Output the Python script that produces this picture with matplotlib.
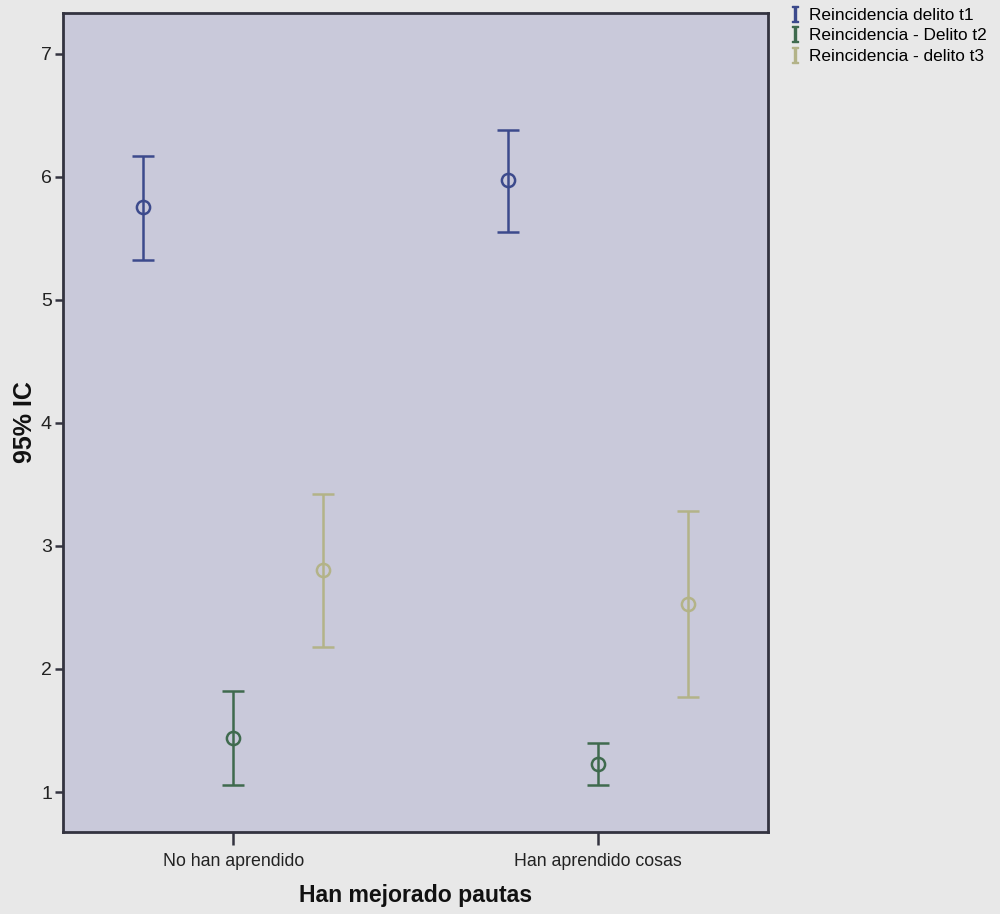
import numpy as np
import matplotlib
matplotlib.use("Agg")
import matplotlib.pyplot as plt
from matplotlib.lines import Line2D

# datos (IC 95%)
categorias = ['No han aprendido', 'Han aprendido cosas']
series = ['Reincidencia delito t1', 'Reincidencia - Delito t2', 'Reincidencia - delito t3']
media = [[5.75, 5.97], [1.44, 1.23], [2.80, 2.53]]
ic_inf = [[5.32, 5.55], [1.06, 1.06], [2.18, 1.77]]
ic_sup = [[6.17, 6.38], [1.82, 1.40], [3.42, 3.28]]
colores = ['#3c4a8c', '#3f6a4e', '#b3b388']

plt.rcParams['font.family'] = ['Liberation Sans', 'DejaVu Sans']
plt.rcParams['mathtext.fontset'] = 'dejavuserif'

fig = plt.figure(figsize=(10, 9.14), dpi=100, facecolor='#e8e8e8')
ax = fig.add_axes([0.063, 0.0897, 0.705, 0.8961])
ax.set_facecolor('#c9c9da')

x = np.arange(len(categorias))
desplaz = [-0.247, 0, 0.247]
for i in range(3):
    m = np.array(media[i])
    err = [m - np.array(ic_inf[i]), np.array(ic_sup[i]) - m]
    ax.errorbar(x + desplaz[i], m, yerr=err, fmt='o', color=colores[i],
                mfc='none', mec=colores[i], ms=9.5, mew=1.8,
                elinewidth=1.8, capsize=8, capthick=1.8)

ax.set_xlim(-0.467, 1.467)
ax.set_ylim(0.675, 7.33)
ax.set_xticks(x)
ax.set_xticklabels(categorias, fontsize=12.8, color='#222222')
ax.set_yticks([1, 2, 3, 4, 5, 6, 7])
ax.set_yticklabels([1, 2, 3, 4, 5, 6, 7], fontsize=14, color='#222222')
ax.tick_params(axis='y', length=6, width=1.8, color='#333340', pad=2)
ax.tick_params(axis='x', length=9, width=1.8, color='#333340', pad=6)
for s in ax.spines.values():
    s.set_linewidth(2)
    s.set_color('#333340')
ax.set_xlabel('Han mejorado pautas', fontsize=16.6, fontweight='bold', labelpad=10,
              color='#111111')
ax.set_ylabel('95% IC', fontsize=18, fontweight='bold', labelpad=3, color='#111111')

handles = [Line2D([], [], ls='none', marker=r'$\mathrm{I}$', ms=12, color=c) for c in colores]
fig.legend(handles, series, loc='upper left', bbox_to_anchor=(0.773, 1.008),
           frameon=False, fontsize=12.4, handlelength=0.8, handletextpad=0.4,
           labelspacing=0.3)

plt.savefig('out.png', dpi=100, facecolor=fig.get_facecolor())
